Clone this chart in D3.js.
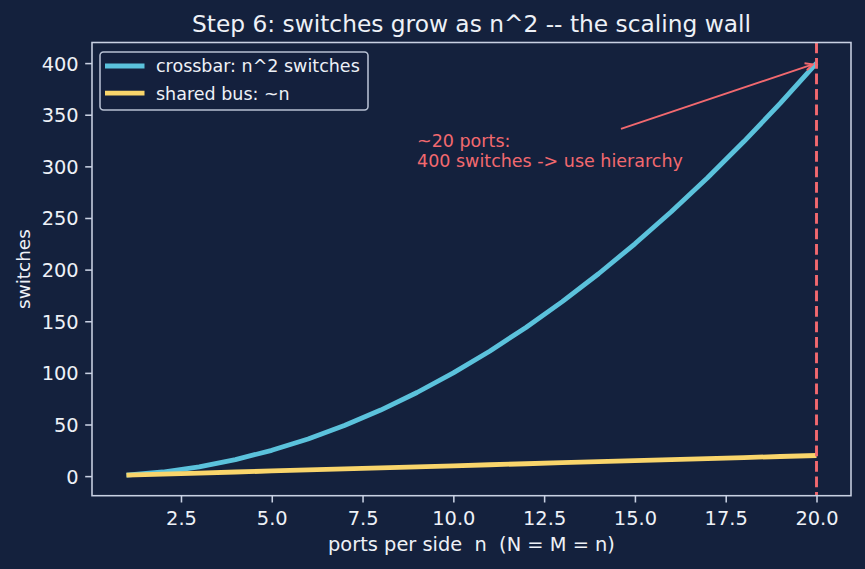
<!DOCTYPE html>
<html>
<head>
<meta charset="utf-8">
<script src="https://cdn.jsdelivr.net/npm/d3@7/dist/d3.min.js"></script>
<style>
  html, body { margin: 0; padding: 0; background: #14213d; }
  svg { display: block; }
  text { font-family: "DejaVu Sans", sans-serif; }
</style>
</head>
<body>
<svg id="chart" width="865" height="569"></svg>
<script>
// ---- data ----
const ports = [1,2,3,4,5,6,7,8,9,10,11,12,13,14,15,16,17,18,19,20];
const crossbarSwitches = [1,4,9,16,25,36,49,64,81,100,121,144,169,196,225,256,289,324,361,400];
const busSwitches = [1,2,3,4,5,6,7,8,9,10,11,12,13,14,15,16,17,18,19,20];
const xTicks = [2.5,5.0,7.5,10.0,12.5,15.0,17.5,20.0];
const yTicks = [0,50,100,150,200,250,300,350,400];
const seriesNames = ["crossbar: n^2 switches", "shared bus: ~n"];
const wallPort = 20;
const annotationLines = ["~20 ports:", "400 switches -> use hierarchy"];
const annotationText = [9, 300];
const annotationTarget = [20, 400];

// ---- style ----
const W = 865, H = 569;
const bg = "#14213d";
const fg = "#eef1f7";
const spine = "#c9d1e3";
const cyan = "#5bc2dc";
const yellow = "#f9d56b";
const red = "#f2696f";
const m = {left: 92, right: 851, top: 42.5, bottom: 495.7};

const svg = d3.select("#chart");
svg.append("rect").attr("width", W).attr("height", H).attr("fill", bg);

// matplotlib-like 5% margins
const xExt = d3.extent(ports), xPad = (xExt[1]-xExt[0])*0.05;
const yAll = crossbarSwitches.concat(busSwitches);
const yExt = d3.extent(yAll), yPad = (yExt[1]-yExt[0])*0.05;
const x = d3.scaleLinear().domain([xExt[0]-xPad, xExt[1]+xPad]).range([m.left, m.right]);
const y = d3.scaleLinear().domain([yExt[0]-yPad, yExt[1]+yPad]).range([m.bottom, m.top]);

// axes
const tickFont = 19.4;
const xAxis = d3.axisBottom(x).tickValues(xTicks).tickFormat(d3.format(".1f")).tickSizeInner(6.8).tickSizeOuter(0).tickPadding(6.5);
const gx = svg.append("g").attr("transform", `translate(0,${m.bottom})`).call(xAxis);
const yAxis = d3.axisLeft(y).tickValues(yTicks).tickFormat(d3.format("d")).tickSizeInner(6.8).tickSizeOuter(0).tickPadding(6.5);
const gy = svg.append("g").attr("transform", `translate(${m.left},0)`).call(yAxis);
[gx, gy].forEach(g => {
  g.select(".domain").remove();
  g.selectAll(".tick line").attr("stroke", spine).attr("stroke-width", 1.55);
  g.selectAll(".tick text").attr("fill", fg).attr("font-size", tickFont).attr("font-family", "DejaVu Sans");
});
gx.selectAll(".tick text").attr("dy", null).attr("y", 29.3).attr("dominant-baseline", "alphabetic");
gy.selectAll(".tick text").attr("dy", null).attr("y", 7).attr("dominant-baseline", "alphabetic");

// lines
const line = d3.line().x((d,i) => x(ports[i])).y(d => y(d));
svg.append("path").datum(crossbarSwitches).attr("d", line)
  .attr("fill", "none").attr("stroke", cyan).attr("stroke-width", 4.8).attr("stroke-linejoin", "round").attr("stroke-linecap", "butt");
svg.append("path").datum(busSwitches).attr("d", line)
  .attr("fill", "none").attr("stroke", yellow).attr("stroke-width", 4.8).attr("stroke-linejoin", "round").attr("stroke-linecap", "butt");

// vertical wall line
svg.append("line")
  .attr("x1", x(wallPort)).attr("x2", x(wallPort))
  .attr("y1", m.top).attr("y2", m.bottom)
  .attr("stroke", red).attr("stroke-width", 2.9).attr("stroke-dasharray", "10.8,4.7");

// spines (box)
svg.append("rect").attr("x", m.left).attr("y", m.top)
  .attr("width", m.right - m.left).attr("height", m.bottom - m.top)
  .attr("fill", "none").attr("stroke", spine).attr("stroke-width", 1.55);

// annotation text
const annFont = 17.5;
const annX = x(annotationText[0]);
const annBase = y(annotationText[1]) + 1;
const lineGap = 20;
const ann = svg.append("text").attr("fill", red).attr("font-size", annFont);
annotationLines.forEach((t, i) => {
  ann.append("tspan").attr("x", annX)
    .attr("y", annBase - (annotationLines.length - 1 - i) * lineGap).text(t);
});
// arrow from text bbox center toward target, clipped at padded bbox
const bb = ann.node().getBBox();
const pad = 3.9;
const rx0 = bb.x - pad, rx1 = bb.x + bb.width + pad;
const ry0 = annBase - lineGap - annFont*0.76 - pad, ry1 = annBase + annFont*0.24 + pad;
const cx = (rx0 + rx1)/2, cy = (ry0 + ry1)/2;
const tx = x(annotationTarget[0]), ty = y(annotationTarget[1]);
const dx = tx - cx, dy = ty - cy;
let tEdge = Math.min(dx > 0 ? (rx1 - cx)/dx : (rx0 - cx)/dx, dy < 0 ? (ry0 - cy)/dy : (ry1 - cy)/dy);
const len = Math.hypot(dx, dy);
const ux = dx/len, uy = dy/len;
const shrink = 3.9;
const sx = cx + dx*tEdge + ux*shrink, sy = cy + dy*tEdge + uy*shrink;
const ex = tx - ux*shrink, ey = ty - uy*shrink;
svg.append("line").attr("x1", sx).attr("y1", sy).attr("x2", ex).attr("y2", ey)
  .attr("stroke", red).attr("stroke-width", 1.9);
const hl = 7.5, hw = 3.7;
const px = -uy, py = ux;
svg.append("path")
  .attr("d", `M${ex - ux*hl + px*hw},${ey - uy*hl + py*hw} L${ex},${ey} L${ex - ux*hl - px*hw},${ey - uy*hl - py*hw}`)
  .attr("fill", "none").attr("stroke", red).attr("stroke-width", 1.9).attr("stroke-linejoin", "miter");

// title
svg.append("text").attr("x", (m.left + m.right)/2).attr("y", 31.5)
  .attr("text-anchor", "middle").attr("fill", fg).attr("font-size", 23.3)
  .text("Step 6: switches grow as n^2 -- the scaling wall");

// axis labels
svg.append("text").attr("x", (m.left + m.right)/2).attr("y", 550.5)
  .attr("text-anchor", "middle").attr("fill", fg).attr("font-size", tickFont)
  .attr("xml:space", "preserve").style("white-space", "pre")
  .text("ports per side  n  (N = M = n)");
svg.append("text").attr("transform", `translate(30,${(m.top + m.bottom)/2}) rotate(-90)`)
  .attr("text-anchor", "middle").attr("fill", fg).attr("font-size", 18.4)
  .text("switches");

// legend
const lg = svg.append("g");
lg.append("rect").attr("x", 100).attr("y", 52).attr("width", 268).attr("height", 58)
  .attr("rx", 3.5).attr("ry", 3.5)
  .attr("fill", bg).attr("fill-opacity", 0.8)
  .attr("stroke", spine).attr("stroke-opacity", 0.9).attr("stroke-width", 1.55);
const legColors = [cyan, yellow];
seriesNames.forEach((name, i) => {
  const ly = 66 + i*27.2;
  lg.append("line").attr("x1", 105).attr("x2", 144.5).attr("y1", ly).attr("y2", ly)
    .attr("stroke", legColors[i]).attr("stroke-width", 4.8);
  lg.append("text").attr("x", 156).attr("y", ly + 6.3).attr("fill", fg).attr("font-size", annFont).text(name);
});
</script>
</body>
</html>
